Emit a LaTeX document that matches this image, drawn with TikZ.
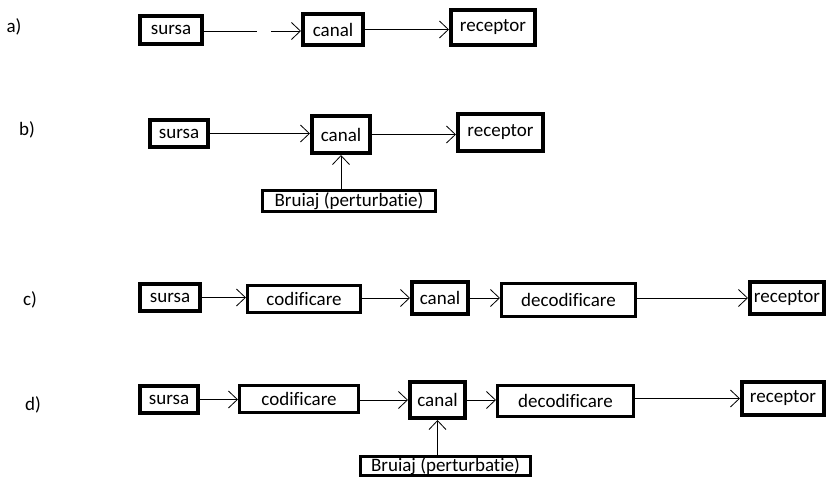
\documentclass[tikz,border=0pt]{standalone}
\usepackage{fontspec}
\setmainfont{Carlito}[Ligatures=CommonOff]
\usetikzlibrary{arrows.meta}
\tikzset{
  heavybox/.style={draw, line width=4.2pt, inner sep=0pt, font=\fontsize{19}{22}\selectfont},
  lightbox/.style={draw, line width=2.8pt, inner sep=0pt, font=\fontsize{19}{22}\selectfont},
  tag/.style={font=\fontsize{19}{22}\selectfont},
  arr/.style={-{Straight Barb[length=9pt,width=17pt]}, line width=0.8pt},
}
\begin{document}
\begin{tikzpicture}[x=1pt,y=-1pt]
    \useasboundingbox (0,0) rectangle (828,479);
    % a)
    \node[tag] (la) at (14,27) {a)};
    \node[heavybox, minimum width=61.8pt, minimum height=27.8pt] (sursaA) at (171,30) {sursa};
    \node[heavybox, minimum width=59.8pt, minimum height=30.8pt] (canalA) at (333,29.5) {canal};
    \node[heavybox, minimum width=83.8pt, minimum height=34.8pt] (recA) at (493,27.5) {receptor};
    \coordinate (gapA) at (257,31);
    \coordinate (gapB) at (271,31);
    \draw[line width=0.8pt] (sursaA.east |- gapA) -- (gapA);
    \draw[arr] (gapB) -- (gapB -| canalA.west);
    \draw[arr] (canalA.east) -- (canalA.east -| recA.west);
    % b)
    \node[tag] (lb) at (27,130) {b)};
    \node[heavybox, minimum width=57.8pt, minimum height=26.8pt] (sursaB) at (179,133.5) {sursa};
    \node[heavybox, minimum width=57.8pt, minimum height=36.8pt] (canalB) at (341,134.5) {canal};
    \node[heavybox, minimum width=84.8pt, minimum height=36.8pt] (recB) at (500.5,132.5) {receptor};
    \node[lightbox, minimum width=173.2pt, minimum height=21.2pt] (bruiajB) at (349,201) {Bruiaj (perturbatie)};
    \draw[arr] (sursaB.east) -- (sursaB.east -| canalB.west);
    \draw[arr] (canalB.east) -- (canalB.east -| recB.west);
    \draw[arr] (bruiajB.north -| canalB.south) -- (canalB.south);
    % c)
    \node[tag] (lc) at (30,300) {c)};
    \node[heavybox, minimum width=59.8pt, minimum height=26.8pt] (sursaC) at (170,297.5) {sursa};
    \node[lightbox, minimum width=113.2pt, minimum height=27.2pt] (codC) at (304,299) {codificare};
    \node[heavybox, minimum width=55.8pt, minimum height=31.8pt] (canalC) at (440,298) {canal};
    \node[lightbox, minimum width=134.2pt, minimum height=33.2pt] (decC) at (568.5,300) {decodificare};
    \node[heavybox, minimum width=73.8pt, minimum height=31.8pt] (recC) at (787,298) {receptor};
    \draw[arr] (sursaC.east) -- (sursaC.east -| codC.west);
    \draw[arr] (codC.east |- canalC) -- (canalC.west);
    \draw[arr] (canalC.east) -- (canalC.east -| decC.west);
    \draw[arr] (decC.east |- recC) -- (recC.west);
    % d)
    \node[tag] (ld) at (33,405) {d)};
    \node[heavybox, minimum width=57.8pt, minimum height=26.8pt] (sursaD) at (169,399.5) {sursa};
    \node[lightbox, minimum width=119.2pt, minimum height=27.2pt] (codD) at (299,399) {codificare};
    \node[heavybox, minimum width=54.8pt, minimum height=35.8pt] (canalD) at (437.5,400) {canal};
    \node[lightbox, minimum width=136.2pt, minimum height=31.2pt] (decD) at (565.5,401) {decodificare};
    \node[heavybox, minimum width=81.8pt, minimum height=32.8pt] (recD) at (783,398.5) {receptor};
    \node[lightbox, minimum width=170.2pt, minimum height=19.2pt] (bruiajD) at (445.5,466) {Bruiaj (perturbatie)};
    \draw[arr] (sursaD.east) -- (sursaD.east -| codD.west);
    \draw[arr] (codD.east |- canalD) -- (canalD.west);
    \draw[arr] (canalD.east) -- (canalD.east -| decD.west);
    \draw[arr] (decD.east |- recD) -- (recD.west);
    \draw[arr] (bruiajD.north -| canalD.south) -- (canalD.south);
\end{tikzpicture}
\end{document}
